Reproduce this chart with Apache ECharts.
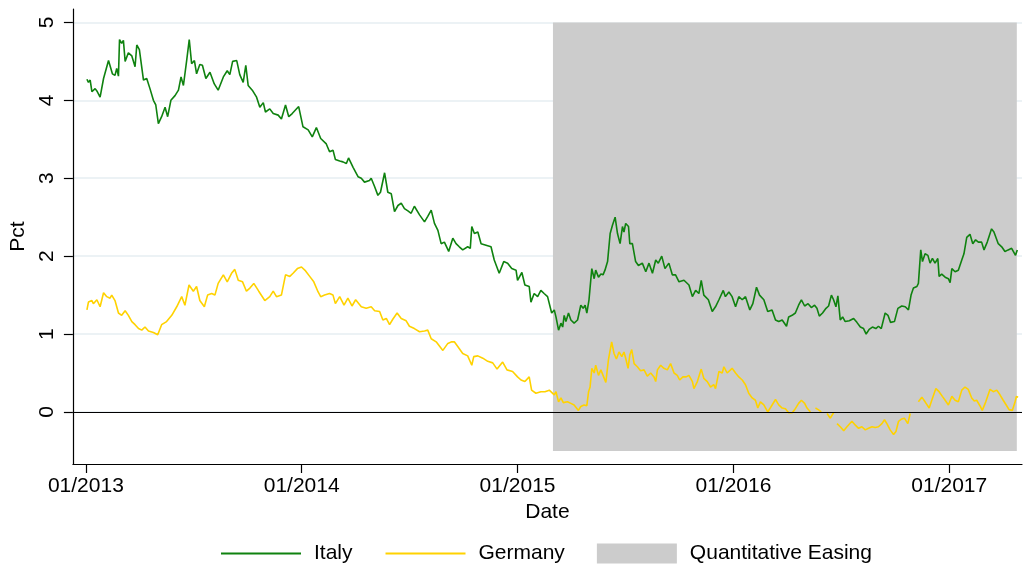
<!DOCTYPE html>
<html>
<head>
<meta charset="utf-8">
<script src="https://cdn.jsdelivr.net/npm/echarts@6/dist/echarts.min.js"></script>
<style>
  html, body { margin: 0; padding: 0; background: #fff; }
  #chart { width: 1023px; height: 569px; }
</style>
</head>
<body>
<div id="chart"></div>
<script>
// dates are decimal years, values in percent
const italy = [
  [2013.005,4.27],[2013.012,4.23],[2013.020,4.26],[2013.028,4.11],[2013.043,4.15],[2013.051,4.12],[2013.066,4.04],
  [2013.082,4.28],[2013.105,4.51],[2013.112,4.52],[2013.123,4.34],[2013.135,4.32],[2013.143,4.41],[2013.151,4.31],
  [2013.156,4.78],[2013.166,4.73],[2013.174,4.77],[2013.182,4.50],[2013.197,4.61],[2013.213,4.57],[2013.228,4.43],
  [2013.236,4.71],[2013.248,4.65],[2013.267,4.26],[2013.282,4.28],[2013.297,4.15],[2013.313,4.00],[2013.324,3.94],
  [2013.336,3.70],[2013.351,3.79],[2013.367,3.91],[2013.379,3.79],[2013.394,4.00],[2013.413,4.06],[2013.429,4.13],
  [2013.441,4.30],[2013.452,4.19],[2013.467,4.51],[2013.479,4.78],[2013.490,4.47],[2013.503,4.51],[2013.513,4.34],
  [2013.528,4.46],[2013.540,4.45],[2013.556,4.28],[2013.575,4.36],[2013.595,4.21],[2013.613,4.13],[2013.637,4.30],
  [2013.655,4.38],[2013.667,4.33],[2013.680,4.50],[2013.699,4.51],[2013.713,4.33],[2013.729,4.23],[2013.741,4.45],
  [2013.752,4.19],[2013.771,4.13],[2013.791,4.04],[2013.806,3.91],[2013.822,3.97],[2013.832,3.85],[2013.852,3.89],
  [2013.868,3.83],[2013.891,3.81],[2013.906,3.76],[2013.925,3.94],[2013.940,3.79],[2013.956,3.83],[2013.986,3.92],
  [2014.006,3.66],[2014.030,3.62],[2014.049,3.53],[2014.068,3.65],[2014.088,3.51],[2014.114,3.44],[2014.129,3.34],
  [2014.145,3.36],[2014.156,3.24],[2014.176,3.22],[2014.191,3.21],[2014.207,3.19],[2014.217,3.26],[2014.238,3.14],
  [2014.261,3.02],[2014.276,3.00],[2014.291,2.95],[2014.314,2.97],[2014.322,3.00],[2014.338,2.89],[2014.353,2.78],
  [2014.365,2.82],[2014.384,3.07],[2014.399,2.82],[2014.415,2.80],[2014.430,2.57],[2014.446,2.65],[2014.461,2.68],
  [2014.476,2.61],[2014.492,2.58],[2014.507,2.55],[2014.522,2.64],[2014.546,2.53],[2014.569,2.44],[2014.584,2.51],
  [2014.600,2.59],[2014.615,2.42],[2014.631,2.33],[2014.646,2.16],[2014.661,2.18],[2014.681,2.06],[2014.700,2.23],
  [2014.715,2.16],[2014.730,2.12],[2014.746,2.08],[2014.769,2.12],[2014.781,2.10],[2014.788,2.38],[2014.800,2.29],
  [2014.816,2.31],[2014.831,2.16],[2014.854,2.14],[2014.877,2.12],[2014.892,1.95],[2014.915,1.78],[2014.936,1.93],
  [2014.954,1.91],[2014.973,1.84],[2014.993,1.82],[2015.000,1.69],[2015.020,1.79],[2015.034,1.63],[2015.054,1.61],
  [2015.062,1.41],[2015.077,1.52],[2015.093,1.48],[2015.108,1.56],[2015.123,1.52],[2015.139,1.48],[2015.158,1.27],
  [2015.170,1.31],[2015.178,1.22],[2015.190,1.05],[2015.201,1.14],[2015.209,1.09],[2015.216,1.24],[2015.224,1.16],
  [2015.236,1.27],[2015.247,1.18],[2015.262,1.14],[2015.278,1.18],[2015.293,1.37],[2015.304,1.33],[2015.313,1.37],
  [2015.321,1.27],[2015.331,1.44],[2015.344,1.84],[2015.355,1.71],[2015.362,1.82],[2015.375,1.73],[2015.386,1.77],
  [2015.396,1.76],[2015.405,1.82],[2015.417,1.93],[2015.429,2.29],[2015.440,2.40],[2015.452,2.50],[2015.463,2.29],
  [2015.475,2.16],[2015.486,2.38],[2015.493,2.31],[2015.501,2.42],[2015.514,2.38],[2015.520,2.16],[2015.532,2.16],
  [2015.547,1.93],[2015.560,1.88],[2015.578,1.91],[2015.594,1.80],[2015.609,1.91],[2015.625,1.78],[2015.640,1.95],
  [2015.652,1.91],[2015.668,2.00],[2015.683,1.84],[2015.701,1.91],[2015.717,1.76],[2015.732,1.76],[2015.748,1.67],
  [2015.771,1.69],[2015.794,1.63],[2015.810,1.48],[2015.825,1.56],[2015.840,1.52],[2015.851,1.69],[2015.863,1.50],
  [2015.884,1.44],[2015.902,1.29],[2015.917,1.35],[2015.933,1.44],[2015.953,1.56],[2015.963,1.48],[2015.979,1.54],
  [2015.994,1.48],[2016.010,1.35],[2016.025,1.48],[2016.041,1.44],[2016.056,1.48],[2016.076,1.31],[2016.090,1.39],
  [2016.107,1.60],[2016.121,1.50],[2016.141,1.44],[2016.159,1.29],[2016.179,1.31],[2016.195,1.18],[2016.210,1.16],
  [2016.226,1.18],[2016.246,1.10],[2016.256,1.22],[2016.272,1.24],[2016.287,1.27],[2016.302,1.37],[2016.315,1.44],
  [2016.330,1.36],[2016.346,1.39],[2016.361,1.34],[2016.376,1.37],[2016.387,1.33],[2016.398,1.23],[2016.413,1.27],
  [2016.429,1.33],[2016.441,1.36],[2016.454,1.50],[2016.464,1.44],[2016.475,1.35],[2016.484,1.49],[2016.495,1.18],
  [2016.506,1.22],[2016.518,1.16],[2016.537,1.17],[2016.557,1.20],[2016.572,1.15],[2016.588,1.09],[2016.603,1.07],
  [2016.615,1.00],[2016.629,1.06],[2016.644,1.09],[2016.660,1.07],[2016.672,1.10],[2016.685,1.07],[2016.703,1.27],
  [2016.716,1.24],[2016.728,1.15],[2016.746,1.16],[2016.762,1.33],[2016.780,1.36],[2016.796,1.35],[2016.811,1.31],
  [2016.823,1.50],[2016.834,1.59],[2016.850,1.61],[2016.857,1.65],[2016.868,2.08],[2016.876,1.93],[2016.888,2.03],
  [2016.901,2.01],[2016.911,1.91],[2016.922,1.97],[2016.934,1.91],[2016.947,1.97],[2016.953,1.74],[2016.965,1.77],
  [2016.981,1.73],[2016.996,1.71],[2017.004,1.66],[2017.012,1.84],[2017.027,1.80],[2017.042,1.82],[2017.058,1.95],
  [2017.068,2.03],[2017.081,2.24],[2017.096,2.28],[2017.109,2.16],[2017.122,2.21],[2017.135,2.18],[2017.150,2.18],
  [2017.161,2.08],[2017.176,2.18],[2017.184,2.25],[2017.196,2.35],[2017.207,2.31],[2017.215,2.33],[2017.227,2.16],
  [2017.243,2.12],[2017.258,2.06],[2017.273,2.08],[2017.289,2.10],[2017.307,2.01],[2017.315,2.08]
];

// null = missing observation (gap in the line)
const germany = [
  [2013.005,1.31],[2013.012,1.41],[2013.028,1.43],[2013.035,1.39],[2013.051,1.44],[2013.066,1.35],[2013.082,1.53],
  [2013.097,1.48],[2013.112,1.46],[2013.120,1.50],[2013.135,1.43],[2013.151,1.27],[2013.166,1.24],[2013.182,1.30],
  [2013.197,1.24],[2013.213,1.16],[2013.228,1.12],[2013.244,1.07],[2013.259,1.05],[2013.274,1.09],[2013.290,1.04],
  [2013.313,1.02],[2013.333,0.99],[2013.351,1.12],[2013.374,1.16],[2013.398,1.24],[2013.421,1.35],[2013.444,1.48],
  [2013.459,1.37],[2013.478,1.63],[2013.498,1.55],[2013.513,1.61],[2013.528,1.43],[2013.549,1.35],[2013.564,1.50],
  [2013.583,1.52],[2013.598,1.50],[2013.613,1.65],[2013.637,1.76],[2013.655,1.67],[2013.675,1.78],[2013.690,1.83],
  [2013.706,1.69],[2013.726,1.67],[2013.744,1.55],[2013.760,1.59],[2013.778,1.65],[2013.786,1.67],[2013.801,1.55],
  [2013.829,1.43],[2013.852,1.48],[2013.868,1.55],[2013.883,1.48],[2013.906,1.50],[2013.925,1.76],[2013.945,1.74],
  [2013.960,1.78],[2013.980,1.84],[2013.999,1.86],[2014.018,1.81],[2014.037,1.74],[2014.056,1.67],[2014.076,1.54],
  [2014.088,1.48],[2014.106,1.50],[2014.129,1.52],[2014.145,1.50],[2014.156,1.39],[2014.176,1.48],[2014.196,1.37],
  [2014.214,1.46],[2014.233,1.36],[2014.250,1.44],[2014.276,1.35],[2014.299,1.33],[2014.322,1.35],[2014.338,1.30],
  [2014.361,1.29],[2014.376,1.18],[2014.392,1.20],[2014.407,1.12],[2014.422,1.19],[2014.442,1.27],[2014.461,1.20],
  [2014.484,1.17],[2014.499,1.10],[2014.522,1.07],[2014.546,1.03],[2014.569,1.04],[2014.584,1.05],[2014.600,0.94],
  [2014.623,0.90],[2014.654,0.79],[2014.677,0.88],[2014.695,0.90],[2014.707,0.90],[2014.723,0.84],[2014.746,0.75],
  [2014.769,0.72],[2014.788,0.60],[2014.797,0.71],[2014.816,0.72],[2014.839,0.69],[2014.862,0.65],[2014.885,0.63],
  [2014.905,0.55],[2014.931,0.64],[2014.951,0.54],[2014.977,0.52],[2015.000,0.45],[2015.016,0.41],[2015.034,0.39],
  [2015.054,0.45],[2015.065,0.28],[2015.085,0.24],[2015.108,0.26],[2015.127,0.26],[2015.147,0.28],[2015.170,0.22],
  [2015.178,0.26],[2015.190,0.13],[2015.201,0.18],[2015.212,0.12],[2015.231,0.13],[2015.247,0.11],[2015.262,0.09],
  [2015.282,0.02],[2015.293,0.07],[2015.308,0.09],[2015.321,0.08],[2015.329,0.26],[2015.336,0.32],[2015.344,0.56],
  [2015.355,0.50],[2015.362,0.60],[2015.375,0.47],[2015.386,0.54],[2015.396,0.47],[2015.409,0.38],[2015.421,0.67],
  [2015.436,0.90],[2015.447,0.75],[2015.458,0.68],[2015.470,0.77],[2015.483,0.71],[2015.493,0.77],[2015.501,0.69],
  [2015.512,0.56],[2015.520,0.73],[2015.529,0.80],[2015.540,0.62],[2015.555,0.58],[2015.570,0.53],[2015.586,0.54],
  [2015.601,0.46],[2015.617,0.50],[2015.632,0.45],[2015.640,0.39],[2015.648,0.54],[2015.663,0.60],[2015.678,0.56],
  [2015.694,0.54],[2015.709,0.62],[2015.725,0.50],[2015.740,0.47],[2015.751,0.41],[2015.766,0.45],[2015.781,0.45],
  [2015.794,0.47],[2015.810,0.39],[2015.817,0.30],[2015.833,0.39],[2015.851,0.55],[2015.863,0.43],[2015.879,0.39],
  [2015.894,0.32],[2015.909,0.35],[2015.917,0.30],[2015.933,0.52],[2015.948,0.50],[2015.956,0.58],[2015.971,0.50],
  [2015.994,0.56],[2016.010,0.50],[2016.025,0.45],[2016.041,0.41],[2016.056,0.35],[2016.071,0.24],[2016.087,0.18],
  [2016.102,0.15],[2016.113,0.05],[2016.125,0.13],[2016.141,0.09],[2016.159,0.00],[2016.175,0.07],[2016.195,0.16],
  [2016.210,0.09],[2016.226,0.05],[2016.241,0.04],[2016.256,-0.01],[2016.272,-0.01],[2016.284,0.03],[2016.302,0.11],
  [2016.315,0.15],[2016.330,0.11],[2016.341,0.05],[2016.357,0.00],[2016.368,null],[2016.380,0.05],[2016.393,0.03],
  [2016.407,0.00],[2016.420,null],[2016.434,-0.02],[2016.449,-0.08],[2016.464,-0.01],[2016.472,null],[2016.480,-0.15],
  [2016.495,-0.19],[2016.511,-0.24],[2016.526,-0.19],[2016.549,-0.12],[2016.565,-0.17],[2016.580,-0.21],[2016.595,-0.19],
  [2016.611,-0.23],[2016.626,-0.21],[2016.642,-0.19],[2016.657,-0.20],[2016.672,-0.19],[2016.688,-0.15],[2016.700,-0.10],
  [2016.711,-0.15],[2016.726,-0.23],[2016.742,-0.29],[2016.753,-0.25],[2016.765,-0.12],[2016.780,-0.09],[2016.792,-0.08],
  [2016.808,-0.15],[2016.819,-0.02],[2016.827,null],[2016.834,0.03],[2016.845,null],[2016.857,0.13],[2016.873,0.19],
  [2016.888,0.13],[2016.907,0.05],[2016.919,0.15],[2016.938,0.30],[2016.953,0.26],[2016.968,0.20],[2016.981,0.15],
  [2016.996,0.09],[2017.012,0.20],[2017.027,0.15],[2017.042,0.13],[2017.058,0.28],[2017.073,0.32],[2017.088,0.29],
  [2017.104,0.18],[2017.116,0.14],[2017.127,0.15],[2017.142,0.08],[2017.153,0.02],[2017.169,0.13],[2017.189,0.29],
  [2017.204,0.26],[2017.220,0.28],[2017.235,0.22],[2017.250,0.15],[2017.266,0.08],[2017.277,0.03],[2017.292,0.02],
  [2017.304,0.12],[2017.311,0.20],[2017.319,0.19]
];

const qePeriod = [2015.164, 2017.313];   // start / end of QE shading
const qeBand = [-0.5, 5];                // vertical extent of the shading
const yearTicks = [2013, 2014, 2015, 2016, 2017];
const pctTicks = [0, 1, 2, 3, 4, 5];

const FONT = 'Liberation Sans, Arial, sans-serif';
const chart = echarts.init(document.getElementById('chart'), null, { renderer: 'canvas' });

const option = {
  animation: false,
  backgroundColor: '#fff',
  textStyle: { fontFamily: FONT, color: '#000' },
  grid: { left: 71, right: 1, top: 9, bottom: 105, containLabel: false },
  legend: {
    left: 215,
    top: 538,
    orient: 'horizontal',
    itemWidth: 80,
    itemHeight: 20,
    itemGap: 32,
    selectedMode: false,
    textStyle: { fontSize: 21, color: '#000', fontFamily: FONT, padding: [0, 0, 0, 8] },
    data: [
      // hide the symbol that line series put in the middle of their legend icon
      { name: 'Italy', itemStyle: { opacity: 0 } },
      { name: 'Germany', itemStyle: { opacity: 0 } },
      { name: 'Quantitative Easing', icon: 'rect', itemStyle: { color: '#cccccc' } }
    ]
  },
  xAxis: {
    type: 'value',
    min: 2012.94,
    max: 2017.337,
    name: 'Date',
    nameLocation: 'middle',
    nameGap: 33,
    nameTextStyle: { fontSize: 21, color: '#000' },
    axisLine: { show: true, onZero: false, lineStyle: { color: '#000', width: 1.2 } },
    axisTick: { show: true, customValues: yearTicks, length: 9, lineStyle: { color: '#000', width: 1.2 } },
    axisLabel: {
      customValues: yearTicks,
      margin: 12,
      fontSize: 21,
      color: '#000',
      formatter: v => '01/' + Math.round(v)
    },
    splitLine: { show: false }
  },
  yAxis: {
    type: 'value',
    min: -0.668,
    max: 5.172,
    name: 'Pct',
    nameLocation: 'middle',
    nameGap: 35,
    nameTextStyle: { fontSize: 21, color: '#000' },
    axisLine: { show: true, onZero: false, lineStyle: { color: '#000', width: 1.2 } },
    axisTick: { show: true, customValues: pctTicks, length: 9, lineStyle: { color: '#000', width: 1.2 } },
    axisLabel: { customValues: pctTicks, rotate: 90, margin: 15, fontSize: 21, color: '#000' },
    splitLine: { show: true, lineStyle: { color: '#e6eef2', width: 1.5 } }
  },
  series: [
    {
      name: 'Quantitative Easing',
      type: 'line',
      data: [],
      color: '#cccccc',
      itemStyle: { color: '#cccccc' },
      silent: true,
      markArea: {
        silent: true,
        itemStyle: { color: '#cccccc', opacity: 1 },
        data: [[{ xAxis: qePeriod[0], yAxis: qeBand[0] }, { xAxis: qePeriod[1], yAxis: qeBand[1] }]]
      },
      markLine: {
        silent: true,
        symbol: 'none',
        label: { show: false },
        lineStyle: { color: '#000', width: 1.2, type: 'solid' },
        data: [{ yAxis: 0 }]
      }
    },
    {
      name: 'Italy',
      type: 'line',
      data: italy,
      showSymbol: false,
      symbol: 'none',
      color: '#0f820f',
      lineStyle: { color: '#0f820f', width: 1.6 },
      z: 3
    },
    {
      name: 'Germany',
      type: 'line',
      data: germany.map(p => [p[0], p[1] === null ? '-' : p[1]]),
      showSymbol: false,
      symbol: 'none',
      connectNulls: false,
      color: '#ffd200',
      lineStyle: { color: '#ffd200', width: 1.6 },
      z: 3
    }
  ]
};

chart.setOption(option);
</script>
</body>
</html>
